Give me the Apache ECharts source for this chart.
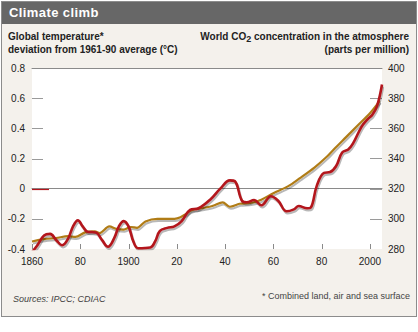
<!DOCTYPE html>
<html>
<head>
<meta charset="utf-8">
<script src="https://cdn.jsdelivr.net/npm/echarts@6/dist/echarts.min.js"></script>
<style>
  html, body { margin: 0; padding: 0; background: #fff; }
  #frame {
    position: absolute; left: 1px; top: 1px; width: 416px; height: 316px;
    box-sizing: border-box; border: 1px solid #8c8c8c; background: #f4f1ec;
  }
  #bar {
    position: absolute; left: 0; top: 0; right: 0; height: 22px; background: #676767;
    color: #fff; font: bold 13px "Liberation Sans", Arial, sans-serif;
    line-height: 22px; padding-left: 7px; letter-spacing: 0.4px;
  }
  #chart { position: absolute; left: 0; top: 0; width: 418px; height: 332px; }
</style>
</head>
<body>
<div id="frame"><div id="bar">Climate climb</div></div>
<div id="chart"></div>
<script>
// Global temperature deviation from the 1961-90 average (°C), smoothed
const tempYears = [1860, 1862, 1865, 1867.5, 1870, 1872.5, 1875, 1877, 1879, 1881, 1883, 1886.5, 1889, 1891.5,
  1894, 1896, 1898, 1900, 1902, 1904, 1909, 1911, 1913, 1916, 1919, 1922, 1925.5, 1929, 1934, 1938, 1942, 1944,
  1947, 1949, 1952, 1955, 1959, 1962, 1965.5, 1968.5, 1970.5, 1974, 1975.5, 1978, 1981, 1983.5, 1986, 1988.5,
  1991, 1993, 1996.5, 1999, 2001, 2003, 2005];
const tempValues = [-0.42, -0.38, -0.31, -0.30, -0.34, -0.375, -0.33, -0.25, -0.21, -0.25, -0.285, -0.29, -0.34, -0.385,
  -0.33, -0.25, -0.215, -0.25, -0.35, -0.395, -0.39, -0.35, -0.28, -0.26, -0.25, -0.215, -0.14, -0.13, -0.07, 0.0, 0.055, 0.05,
  -0.08, -0.09, -0.075, -0.11, -0.05, -0.08, -0.15, -0.137, -0.115, -0.13, -0.125, 0.02, 0.105, 0.11, 0.15, 0.24,
  0.26, 0.30, 0.41, 0.46, 0.49, 0.55, 0.69];

// World CO2 concentration in the atmosphere (ppm)
const co2Years = [1860, 1865, 1870, 1875, 1878, 1882, 1886, 1888, 1892, 1895, 1898, 1901, 1903.5, 1907, 1912, 1919,
  1921.5, 1924, 1926, 1931, 1935, 1939, 1942, 1946, 1950.5, 1955, 1960, 1966, 1971, 1977, 1982, 1985, 1990, 1995, 2000, 2004];
const co2Values = [285, 286.5, 287.3, 288.5, 288, 291, 291.7, 290.6, 295, 293.3, 292.8, 294.6, 294, 298.3, 300, 300,
  301, 303.5, 305.6, 307.2, 308.7, 310.9, 308, 310, 310.5, 312.7, 317, 321.5, 327, 334, 341, 346, 354, 362, 370, 378];

// Axis ticks and labels
const yearStart = 1860, yearEnd = 2005;
const tempMin = -0.4, tempMax = 0.8;
const xTickYears = [1860, 1880, 1900, 1920, 1940, 1960, 1980, 2000];
const xTickLabels = ['1860', '80', '1900', '20', '40', '60', '80', '2000'];
const tempTicks = [-0.4, -0.2, 0, 0.2, 0.4, 0.6, 0.8];
const tempTickLabels = ['-0.4', '-0.2', '0', '0.2', '0.4', '0.6', '0.8'];
const tempMarkTicks = [-0.2, 0.2, 0.4, 0.6];
const co2Ticks = [280, 300, 320, 340, 360, 380, 400];
const co2TickLabels = ['280', '300', '320', '340', '360', '380', '400'];
const co2MarkTicks = [300, 320, 340, 360, 380];

const RED = '#b3151c';
const GOLD = '#b07c17';
const FONT = '"Liberation Sans", Arial, sans-serif';
const TICK_GREY = '#9a9a9a';
const AXIS_GREY = '#8a8a8a';

const lineShadow = { shadowColor: 'rgba(0,0,0,0.28)', shadowBlur: 1.5, shadowOffsetX: 1, shadowOffsetY: 2 };

// short tick marks drawn inward from an axis edge, placed through the axis scales
function tickMarks(points, yAxisIndex, dx, dy, color, width) {
  return {
    type: 'custom', xAxisIndex: 0, yAxisIndex, silent: true, z: 2, clip: false,
    encode: { x: 0, y: 1 },
    data: points,
    renderItem: (params, api) => {
      const p = api.coord([api.value(0), api.value(1)]);
      const x = dy !== 0 ? Math.round(p[0]) + 0.5 : p[0];
      const y = dx !== 0 ? Math.round(p[1]) + 0.5 : p[1];
      return {
        type: 'line',
        shape: { x1: x, y1: y, x2: x + dx, y2: y + dy },
        style: { stroke: color, lineWidth: width }
      };
    }
  };
}

const chart = echarts.init(document.getElementById('chart'), null, { renderer: 'svg' });

chart.setOption({
  animation: false,
  grid: {
    left: 32, top: 68, width: 350, height: 181,
    show: true, backgroundColor: '#ffffff', borderWidth: 0,
    outerBoundsMode: 'none'
  },
  xAxis: [
    {
      type: 'value', min: yearStart, max: yearEnd, position: 'bottom',
      axisLine: { lineStyle: { color: AXIS_GREY, width: 1 } },
      axisTick: { show: false },
      axisLabel: {
        customValues: xTickYears, margin: 7, fontSize: 10, color: '#222', fontFamily: FONT,
        formatter: v => xTickLabels[xTickYears.indexOf(v)]
      },
      splitLine: { show: false }
    },
    {
      type: 'value', min: yearStart, max: yearEnd, position: 'top',
      axisLine: { show: true, lineStyle: { color: AXIS_GREY, width: 1 } },
      axisTick: { show: false }, axisLabel: { show: false }, splitLine: { show: false }
    }
  ],
  yAxis: [
    {
      type: 'value', min: tempMin, max: tempMax, interval: 0.2, position: 'left',
      axisLine: { show: false },
      axisTick: { show: false },
      axisLabel: {
        customValues: tempTicks, margin: 7, fontSize: 10, color: '#222', fontFamily: FONT, padding: [0, 0, 5, 0],
        formatter: v => tempTickLabels[tempTicks.findIndex(t => Math.abs(t - v) < 1e-9)]
      },
      splitLine: { show: false }
    },
    {
      type: 'value', min: 280, max: 400, interval: 20, position: 'right',
      axisLine: { show: false },
      axisTick: { show: false },
      axisLabel: {
        customValues: co2Ticks, margin: 6, fontSize: 10, color: '#222', fontFamily: FONT, padding: [0, 0, 5, 0],
        formatter: v => co2TickLabels[co2Ticks.indexOf(v)]
      },
      splitLine: { show: false }
    }
  ],
  series: [
    // axis tick marks
    tickMarks(tempMarkTicks.map(v => [yearStart, v]), 0, 11, 0, TICK_GREY, 1),
    tickMarks(co2MarkTicks.map(v => [yearEnd, v]), 1, -12, 0, TICK_GREY, 1),
    tickMarks(xTickYears.map(y => [y, tempMin]), 0, 0, -5, AXIS_GREY, 1),
    // zero reference tick in the temperature colour
    tickMarks([[yearStart, 0]], 0, 17, 0, RED, 1.2),
    {
      name: 'CO2', type: 'line', xAxisIndex: 0, yAxisIndex: 1,
      data: co2Years.map((y, i) => [y, co2Values[i]]),
      showSymbol: false, smooth: 0.3, z: 3,
      lineStyle: Object.assign({ color: GOLD, width: 2.2 }, lineShadow)
    },
    {
      name: 'Temperature', type: 'line', xAxisIndex: 0, yAxisIndex: 0,
      data: tempYears.map((y, i) => [y, tempValues[i]]),
      showSymbol: false, smooth: 0.4, z: 4,
      lineStyle: Object.assign({ color: RED, width: 2.6 }, lineShadow)
    }
  ],
  graphic: [
    { type: 'text', left: 8, top: 31, style: { text: 'Global temperature*', font: 'bold 10px ' + FONT, fill: '#222' } },
    { type: 'text', left: 8, top: 44, style: { text: 'deviation from 1961-90 average (°C)', font: 'bold 10px ' + FONT, fill: '#222' } },
    { type: 'line', shape: { x1: 111, y1: 37.5, x2: 129, y2: 37.5 }, style: Object.assign({ stroke: RED, lineWidth: 2.4 }, lineShadow) },
    {
      type: 'text', right: 9, top: 31,
      style: {
        text: 'World CO{sub|2} concentration in the atmosphere',
        font: 'bold 10px ' + FONT, fill: '#222',
        rich: { sub: { font: 'bold 9px ' + FONT, fill: '#222', padding: [5, 0, 0, 0] } }
      }
    },
    { type: 'text', right: 9, top: 44, style: { text: '(parts per million)', font: 'bold 10px ' + FONT, fill: '#222' } },
    { type: 'line', shape: { x1: 302, y1: 50, x2: 320, y2: 50 }, style: Object.assign({ stroke: GOLD, lineWidth: 2.2 }, lineShadow) },
    { type: 'text', left: 13, top: 294, style: { text: 'Sources: IPCC; CDIAC', font: 'italic 9px ' + FONT, fill: '#444' } },
    { type: 'text', right: 8, top: 291, style: { text: '* Combined land, air and sea surface', font: '9px ' + FONT, fill: '#444' } }
  ]
});
</script>
</body>
</html>
